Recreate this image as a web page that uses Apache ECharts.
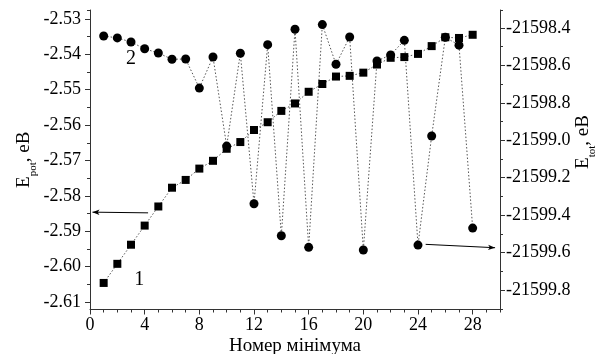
<!DOCTYPE html>
<html>
<head>
<meta charset="utf-8">
<script src="https://cdn.jsdelivr.net/npm/echarts@6/dist/echarts.min.js"></script>
<style>
html, body { margin: 0; padding: 0; background: #fff; }
#chart { width: 601px; height: 354px; }
</style>
</head>
<body>
<div id="chart"></div>
<script>
// номер мінімума
var minNumbers = [1, 2, 3, 4, 5, 6, 7, 8, 9, 10, 11, 12, 13, 14, 15, 16, 17, 18, 19, 20, 21, 22, 23, 24, 25, 26, 27, 28];
// curve 1, E_pot (left axis)
var ePot = [-2.6046, -2.5992, -2.5938, -2.5884, -2.5830, -2.5777, -2.5755, -2.5723, -2.5701, -2.5667,
	-2.5648, -2.5614, -2.5592, -2.5560, -2.5539, -2.5506, -2.5484, -2.5463, -2.5461, -2.5452,
	-2.5429, -2.5410, -2.5408, -2.5399, -2.5377, -2.5352, -2.5354, -2.5345];
// curve 2, E_tot (right axis)
var eTot = [-21598.443, -21598.453, -21598.475, -21598.511, -21598.534, -21598.567, -21598.566, -21598.721, -21598.555, -21599.031,
	-21598.535, -21599.339, -21598.489, -21599.510, -21598.407, -21599.572, -21598.382, -21598.594, -21598.448, -21599.586,
	-21598.576, -21598.544, -21598.466, -21599.560, -21598.977, -21598.450, -21598.492, -21599.469];

var xTicks = [0, 4, 8, 12, 16, 20, 24, 28];
var xMinorTicks = [0, 1, 2, 3, 4, 5, 6, 7, 8, 9, 10, 11, 12, 13, 14, 15, 16, 17, 18, 19, 20, 21, 22, 23, 24, 25, 26, 27, 28, 29, 30];
var potTicks = [-2.61, -2.60, -2.59, -2.58, -2.57, -2.56, -2.55, -2.54, -2.53];
var potMinorTicks = [-2.605, -2.595, -2.585, -2.575, -2.565, -2.555, -2.545, -2.535, -2.5275];
var totTicks = [-21599.8, -21599.6, -21599.4, -21599.2, -21599.0, -21598.8, -21598.6, -21598.4];
var totMinorTicks = [-21599.9, -21599.7, -21599.5, -21599.3, -21599.1, -21598.9, -21598.7, -21598.5, -21598.304];

var FONT = 'Liberation Serif';

function zip(xs, ys) {
	var out = [];
	for (var i = 0; i < xs.length; i++) {
		out.push([xs[i], ys[i]]);
	}
	return out;
}

function minorAxis(base, values) {
	// overlay axis that only draws short ticks
	var ax = {
		type: 'value',
		min: base.min,
		max: base.max,
		position: base.position,
		axisLine: {show: false},
		axisTick: {show: true, inside: false, length: 3, customValues: values, lineStyle: {color: '#333', width: 1}},
		axisLabel: {show: false},
		splitLine: {show: false}
	};
	return ax;
}

var xMain = {
	type: 'value', min: 0, max: 30, position: 'bottom',
	name: 'Номер мінімума', nameLocation: 'middle', nameGap: 27, nameMoveOverlap: false,
	nameTextStyle: {fontFamily: FONT, fontSize: 19, color: '#000'},
	axisLine: {show: true, lineStyle: {color: '#333', width: 1}},
	axisTick: {show: true, length: 5, customValues: xTicks, lineStyle: {color: '#333'}},
	axisLabel: {customValues: xTicks, fontFamily: FONT, fontSize: 18, color: '#000', margin: 7},
	splitLine: {show: false}
};
var potAxis = {
	type: 'value', min: -2.6121, max: -2.5275, position: 'left',
	name: '{e|E}{s|pot}{e|, eB}', nameLocation: 'middle', nameRotate: 90, nameGap: 51, nameMoveOverlap: false,
	nameTextStyle: {
		color: '#000',
		rich: {
			e: {fontFamily: FONT, fontSize: 19, color: '#000', verticalAlign: 'bottom', padding: [0, 0, 5, 0]},
			s: {fontFamily: FONT, fontSize: 11, color: '#000', verticalAlign: 'bottom'}
		}
	},
	axisLine: {show: true, lineStyle: {color: '#333', width: 1}},
	axisTick: {show: true, length: 5, customValues: potTicks, lineStyle: {color: '#333'}},
	axisLabel: {
		customValues: potTicks, fontFamily: FONT, fontSize: 18, color: '#000', margin: 9,
		formatter: function (v) { return v.toFixed(2); }
	},
	splitLine: {show: false}
};
var totAxis = {
	type: 'value', min: -21599.904, max: -21598.304, position: 'right',
	axisLine: {show: true, lineStyle: {color: '#333', width: 1}},
	axisTick: {show: true, length: 5, customValues: totTicks, lineStyle: {color: '#333'}},
	axisLabel: {
		customValues: totTicks, fontFamily: FONT, fontSize: 18, color: '#000', margin: 6,
		formatter: function (v) { return v.toFixed(1); }
	},
	splitLine: {show: false}
};

var chart = echarts.init(document.getElementById('chart'), null, {renderer: 'canvas'});
var option = {
	animation: false,
	backgroundColor: '#fff',
	grid: {left: 90, right: 101, top: 10, bottom: 44.5, outerBoundsMode: 'none'},
	xAxis: [xMain, minorAxis(xMain, xMinorTicks)],
	yAxis: [potAxis, minorAxis(potAxis, potMinorTicks), totAxis, minorAxis(totAxis, totMinorTicks)],
	series: [
		{
			name: '1',
			type: 'line',
			xAxisIndex: 0,
			yAxisIndex: 0,
			data: zip(minNumbers, ePot),
			symbol: 'rect',
			symbolSize: 8,
			itemStyle: {color: '#000'},
			lineStyle: {color: '#555', width: 1, type: [1.5, 2]},
			markLine: {
				silent: true,
				symbol: ['none', 'arrow'],
				symbolSize: [4, 7],
				label: {show: false},
				lineStyle: {color: '#000', width: 1, type: 'solid'},
				data: [[{coord: [4.25, -2.5848]}, {coord: [0.18, -2.5846]}]]
			},
			markPoint: {
				silent: true,
				symbolSize: 0,
				label: {show: true, formatter: '{b}', fontFamily: FONT, fontSize: 20, color: '#000'},
				data: [{name: '1', coord: [3.6, -2.6038]}]
			}
		},
		{
			name: '2',
			type: 'line',
			xAxisIndex: 0,
			yAxisIndex: 2,
			data: zip(minNumbers, eTot),
			symbol: 'circle',
			symbolSize: 9,
			itemStyle: {color: '#000'},
			lineStyle: {color: '#555', width: 1, type: [1.5, 2]},
			markLine: {
				silent: true,
				symbol: ['none', 'arrow'],
				symbolSize: [4, 7],
				label: {show: false},
				lineStyle: {color: '#000', width: 1, type: 'solid'},
				data: [[{coord: [24.56, -21599.556]}, {coord: [29.64, -21599.574]}]]
			},
			markPoint: {
				silent: true,
				symbolSize: 0,
				label: {show: true, formatter: '{b}', fontFamily: FONT, fontSize: 20, color: '#000'},
				data: [{name: '2', coord: [3.0, -21598.566]}]
			}
		}
	],
	graphic: [
		{
			type: 'text',
			x: 586,
			y: 142,
			rotation: Math.PI / 2,
			style: {
				text: '{e|E}{s|tot}{e|, eB}',
				align: 'center',
				verticalAlign: 'middle',
				rich: {
					e: {fontFamily: FONT, fontSize: 19, fill: '#000', verticalAlign: 'bottom', padding: [0, 0, 5, 0]},
					s: {fontFamily: FONT, fontSize: 11, fill: '#000', verticalAlign: 'bottom'}
				}
			}
		}
	]
};
chart.setOption(option);
</script>
</body>
</html>
